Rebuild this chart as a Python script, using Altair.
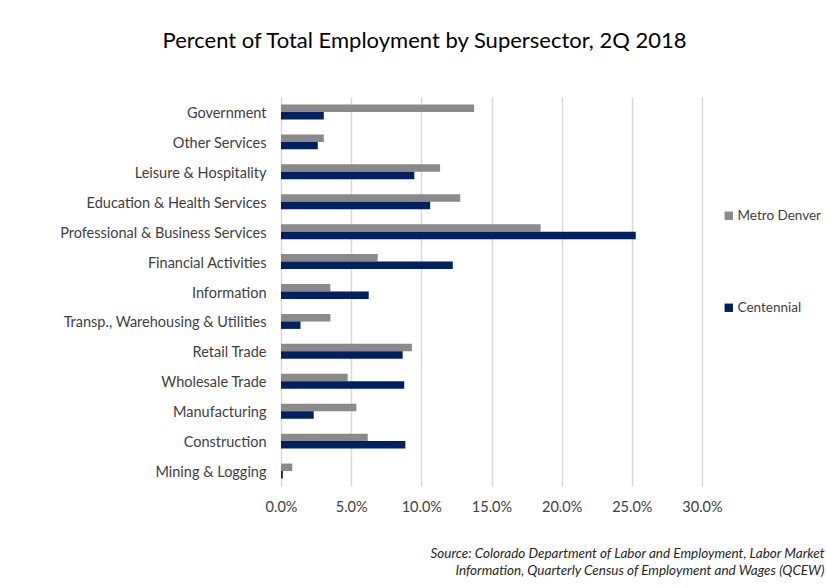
import altair as alt
import pandas as pd

categories = [
    "Government", "Other Services", "Leisure & Hospitality",
    "Education & Health Services", "Professional & Business Services",
    "Financial Activities", "Information", "Transp., Warehousing & Utilities",
    "Retail Trade", "Wholesale Trade", "Manufacturing", "Construction",
    "Mining & Logging",
]
metro_denver = [13.76, 3.05, 11.34, 12.77, 18.5, 6.89, 3.52, 3.52, 9.33, 4.75, 5.37, 6.18, 0.8]
centennial = [3.05, 2.62, 9.5, 10.63, 25.28, 12.24, 6.25, 1.39, 8.67, 8.78, 2.33, 8.86, 0.13]
series = ["Metro Denver", "Centennial"]
colors = ["#8a8a8a", "#002060"]

rows = []
for c, m, ce in zip(categories, metro_denver, centennial):
    rows.append({"Sector": c, "Series": "Metro Denver", "Value": m / 100})
    rows.append({"Sector": c, "Series": "Centennial", "Value": ce / 100})
df = pd.DataFrame(rows)

FONT = "Lato"

chart = alt.Chart(df).mark_bar().encode(
    x=alt.X(
        "Value:Q",
        scale=alt.Scale(domain=[0, 0.30], nice=False),
        axis=alt.Axis(
            format=".1%", values=[0, 0.05, 0.10, 0.15, 0.20, 0.25, 0.30],
            grid=True, gridColor="#d9d9d9", gridWidth=1.5,
            domain=False, ticks=False, labelPadding=14, labelFlush=False,
            labelFont=FONT, labelFontSize=14.5, labelColor="#404040",
            title=["Source: Colorado Department of Labor and Employment, Labor Market",
                   "Information, Quarterly Census of Employment and Wages (QCEW)"],
            titleFont=FONT, titleFontSize=13.5, titleFontStyle="italic",
            titleFontWeight="normal", titleColor="#262626",
            titleAlign="right", titleAnchor="end", titleBaseline="top",
            titleX=543, titleY=60, titleLineHeight=17,
        ),
    ),
    y=alt.Y(
        "Sector:N", sort=categories,
        scale=alt.Scale(paddingInner=0.5, paddingOuter=0.25),
        axis=alt.Axis(
            title=None, domain=False, ticks=False, labelPadding=15, labelLimit=300,
            labelOffset=2,
            labelFont=FONT, labelFontSize=14.5, labelColor="#404040",
        ),
    ),
    yOffset=alt.YOffset("Series:N", sort=series, scale=alt.Scale(paddingInner=0, paddingOuter=0)),
    color=alt.Color(
        "Series:N", sort=series,
        scale=alt.Scale(domain=series, range=colors),
        legend=alt.Legend(
            title=None, orient="none", legendX=441, legendY=112,
            symbolType="square", symbolSize=70, symbolStrokeWidth=0,
            labelFont=FONT, labelFontSize=13.5, labelColor="#404040",
            rowPadding=77, labelOffset=2,
        ),
    ),
).properties(
    width=421,
    height=389,
    title=alt.TitleParams(
        "Percent of Total Employment by Supersector, 2Q 2018",
        font=FONT, fontSize=22, fontWeight="normal", color="#000000",
        anchor="middle", dx=-67, offset=44,
    ),
    autosize=alt.AutoSizeParams(type="none"),
    padding={"left": 281, "top": 97, "right": 124, "bottom": 102},
    background="white",
).configure_view(stroke=None)

chart.save("out.html", embed_options={"renderer": "svg", "actions": False})
